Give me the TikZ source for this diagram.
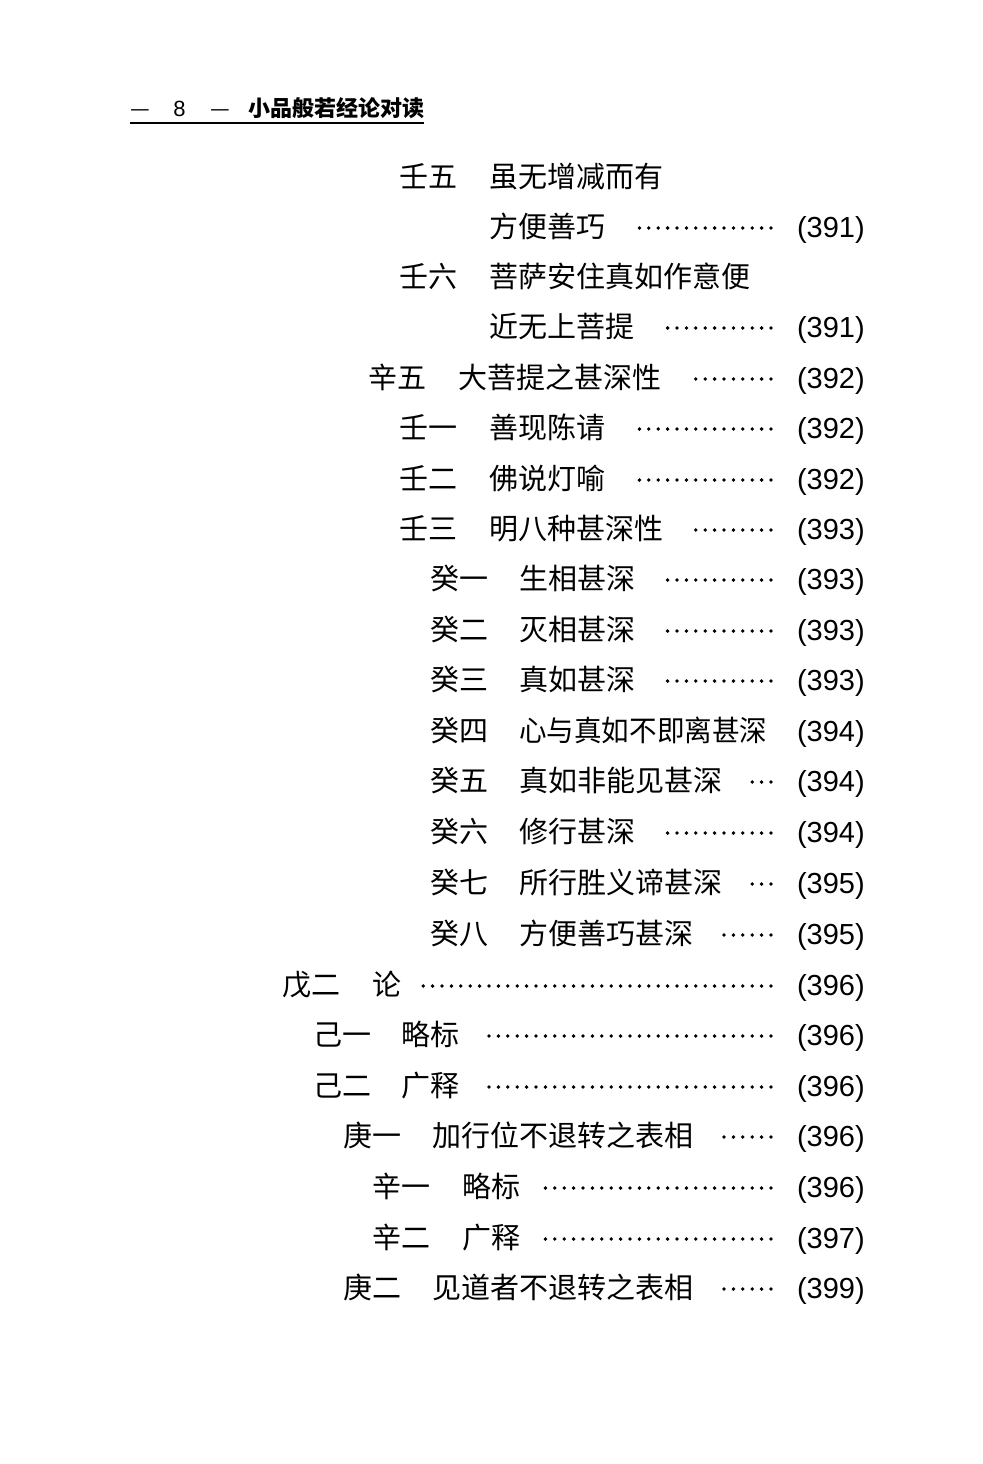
\documentclass[tikz,border=0pt]{standalone}
\usepackage{fontspec}
\setmainfont{Noto Sans CJK SC}
\newfontfamily\numfont{Liberation Sans}
\newcommand\cjkbig{\fontsize{21.75pt}{26pt}\selectfont}
\newcommand\cjkhead{\fontsize{16.5pt}{20pt}\selectfont}
\tikzset{
  lab/.style={anchor=base west, inner sep=0pt, font=\cjkbig},
  ttl/.style={anchor=base west, inner sep=0pt, font=\cjkbig},
  pnum/.style={anchor=base east, inner sep=0pt, font=\numfont\cjkbig},
  hd/.style={anchor=base west, inner sep=0pt, font=\cjkhead},
  leaderdot/.style={fill=black, draw=none}
}
% #1 name, #2 center y, #3 label x, #4 label, #5 text x, #6 text, #7 number of dots, #8 page
\newcommand\tocline[8]{%
  \node[lab] (l#1) at (#3,#2+10.5) {#4};
  \node[ttl] (t#1) at (#5,#2+10.5) {#6};
  \node[pnum] (p#1) at (865,#2+10.5) {#8};
  \ifnum#7>0
    \foreach \i in {1,...,#7}{\fill[leaderdot] (771-\i*9.4+9.4,#2+1) circle (1.9);}
  \fi
}
\newcommand\tocwrap[5]{% #1 name, #2 y, #3 label x, #4 label, #5 text
  \node[lab] (l#1) at (#3,#2+10.5) {#4};
  \node[ttl] (t#1) at (#3+90,#2+10.5) {#5};
}
\newcommand\toccont[6]{% #1 name, #2 y, #3 text x, #4 text, #5 dots, #6 page
  \node[ttl] (t#1) at (#3,#2+10.5) {#4};
  \node[pnum] (p#1) at (865,#2+10.5) {#6};
  \ifnum#5>0
    \foreach \i in {1,...,#5}{\fill[leaderdot] (771-\i*9.4+9.4,#2+1) circle (1.9);}
  \fi
}
\begin{document}
\begin{tikzpicture}[x=0.75pt,y=-0.75pt]
\useasboundingbox (0,0) rectangle (982,1464);
\fill[white] (0,0) rectangle (982,1464);
% header
\node[hd] (h1) at (130,116) {—};
\node[anchor=base west, inner sep=0pt, font=\numfont\cjkhead] (h2) at (173,116) {8};
\node[hd] (h3) at (210,116) {—};
\node[hd, font=\cjkhead\bfseries] (h4) at (248,116) {小品般若经论对读};
\draw[line width=1.5] (130,123) -- (424,123);
% entries
\tocwrap{a}{177}{399}{壬五}{虽无增减而有}
\toccont{b}{227}{489}{方便善巧}{15}{(391)}
\tocwrap{c}{277}{399}{壬六}{菩萨安住真如作意便}
\toccont{d}{327}{489}{近无上菩提}{12}{(391)}
\tocline{e}{378}{368}{辛五}{458}{大菩提之甚深性}{9}{(392)}
\tocline{f}{428}{399}{壬一}{489}{善现陈请}{15}{(392)}
\tocline{g}{479}{399}{壬二}{489}{佛说灯喻}{15}{(392)}
\tocline{h}{529}{399}{壬三}{489}{明八种甚深性}{9}{(393)}
\tocline{i}{579}{430}{癸一}{519}{生相甚深}{12}{(393)}
\tocline{j}{630}{430}{癸二}{519}{灭相甚深}{12}{(393)}
\tocline{k}{680}{430}{癸三}{519}{真如甚深}{12}{(393)}
\tocline{m}{731}{430}{癸四}{519}{\scalebox{0.95}[1]{心与真如不即离甚深}}{0}{(394)}
\tocline{n}{781}{430}{癸五}{519}{真如非能见甚深}{3}{(394)}
\tocline{o}{832}{430}{癸六}{519}{修行甚深}{12}{(394)}
\tocline{q}{883}{430}{癸七}{519}{所行胜义谛甚深}{3}{(395)}
\tocline{r}{934}{430}{癸八}{519}{方便善巧甚深}{6}{(395)}
\tocline{s}{985}{282}{戊二}{372}{论}{38}{(396)}
\tocline{u}{1035}{313}{己一}{401}{略标}{31}{(396)}
\tocline{v}{1086}{313}{己二}{401}{广释}{31}{(396)}
\tocline{w}{1136}{343}{庚一}{432}{加行位不退转之表相}{6}{(396)}
\tocline{x}{1187}{372}{辛一}{462}{略标}{25}{(396)}
\tocline{y}{1238}{372}{辛二}{462}{广释}{25}{(397)}
\tocline{z}{1288}{343}{庚二}{432}{见道者不退转之表相}{6}{(399)}
\end{tikzpicture}
\end{document}
